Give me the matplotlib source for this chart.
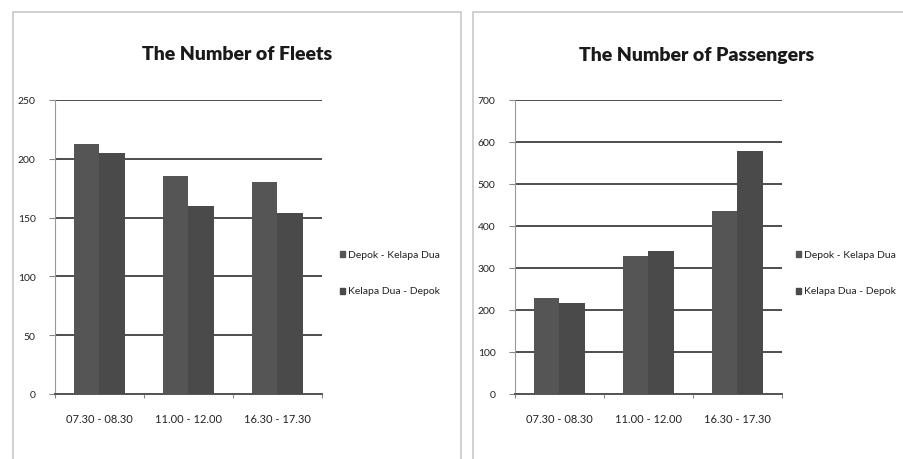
import matplotlib
matplotlib.use("Agg")
import numpy as np
import matplotlib.pyplot as plt
from matplotlib.patches import Rectangle

# time windows and route series
slots = ["07.30 - 08.30", "11.00 - 12.00", "16.30 - 17.30"]
routes = ["Depok - Kelapa Dua", "Kelapa Dua - Depok"]

fleets_depok_kd = [213, 185, 180]
fleets_kd_depok = [205, 160, 154]

pass_depok_kd = [228, 329, 435]
pass_kd_depok = [216, 341, 579]

fleet_ticks = [0, 50, 100, 150, 200, 250]
pass_ticks = [0, 100, 200, 300, 400, 500, 600, 700]

plt.rcParams["font.family"] = ["Lato", "DejaVu Sans"]

W, H = 904, 460
BAR_COLORS = ["#555555", "#4a4a4a"]
GRID = "#4d4d4d"


def px_axes(fig, x0, y0, x1, y1):
    # pixel box (top-left origin) -> figure axes
    return fig.add_axes([x0 / W, (H - y1) / H, (x1 - x0) / W, (y1 - y0) / H])


def draw_panel(fig, ax, title, s1, s2, ticks, title_x, legend_x):
    x = np.arange(len(slots))
    w = 1 / 3.5
    ax.bar(x - w / 2, s1, width=w, color=BAR_COLORS[0], zorder=3, edgecolor="none")
    ax.bar(x + w / 2, s2, width=w, color=BAR_COLORS[1], zorder=3, edgecolor="none")
    ax.set_xlim(-0.5, 2.5)
    ax.set_ylim(0, ticks[-1])
    ax.set_yticks(ticks)
    ax.set_yticklabels([str(t) for t in ticks], fontsize=7.5, color="#222222")
    ax.yaxis.grid(True, color=GRID, linewidth=1.4, zorder=0)
    ax.set_axisbelow(True)

    # boundary ticks between categories, labels at centres
    ax.set_xticks([-0.5, 0.5, 1.5, 2.5])
    ax.set_xticklabels([])
    ax.set_xticks(x, minor=True)
    ax.set_xticklabels(slots, minor=True, fontsize=8, color="#222222")
    ax.tick_params(axis="x", which="major", length=3, color="#888888")
    ax.tick_params(axis="x", which="minor", length=0, pad=14)
    ax.tick_params(axis="y", length=4, color="#888888", pad=10)

    for s in ["top", "right"]:
        ax.spines[s].set_visible(False)
    ax.spines["left"].set_color("#999999")
    ax.spines["bottom"].set_color("#555555")
    ax.spines["bottom"].set_linewidth(1.4)

    fig.text(title_x / W, 1 - 55 / H, title, ha="center", va="center",
             fontsize=14, fontweight="heavy", color="#1a1a1a")

    for i, (lab, c) in enumerate(zip(routes, BAR_COLORS)):
        ly = 255 + i * 37
        fig.patches.append(Rectangle((legend_x / W, 1 - (ly + 3) / H), 5 / W, 6 / H,
                                     transform=fig.transFigure, color=c, figure=fig))
        fig.text((legend_x + 8) / W, 1 - ly / H, lab, ha="left", va="center",
                 fontsize=7.5, color="#222222")


fig = plt.figure(figsize=(W / 100, H / 100), dpi=100)
fig.patch.set_facecolor("white")

# panel frames
fig.patches.append(Rectangle((13 / W, -0.05), (461 - 13) / W, 1 - 13 / H + 0.05,
                             transform=fig.transFigure, fill=False,
                             edgecolor="#c8c8c8", linewidth=1.2, figure=fig))
fig.patches.append(Rectangle((473 / W, -0.05), (W + 10 - 473) / W, 1 - 13 / H + 0.05,
                             transform=fig.transFigure, fill=False,
                             edgecolor="#c8c8c8", linewidth=1.2, figure=fig))

ax1 = px_axes(fig, 55, 101, 322, 395)
draw_panel(fig, ax1, "The Number of Fleets", fleets_depok_kd, fleets_kd_depok,
           fleet_ticks, 237, 340)

ax2 = px_axes(fig, 515, 101, 782, 395)
draw_panel(fig, ax2, "The Number of Passengers", pass_depok_kd, pass_kd_depok,
           pass_ticks, 697, 796)

fig.savefig("out.png", dpi=100)
